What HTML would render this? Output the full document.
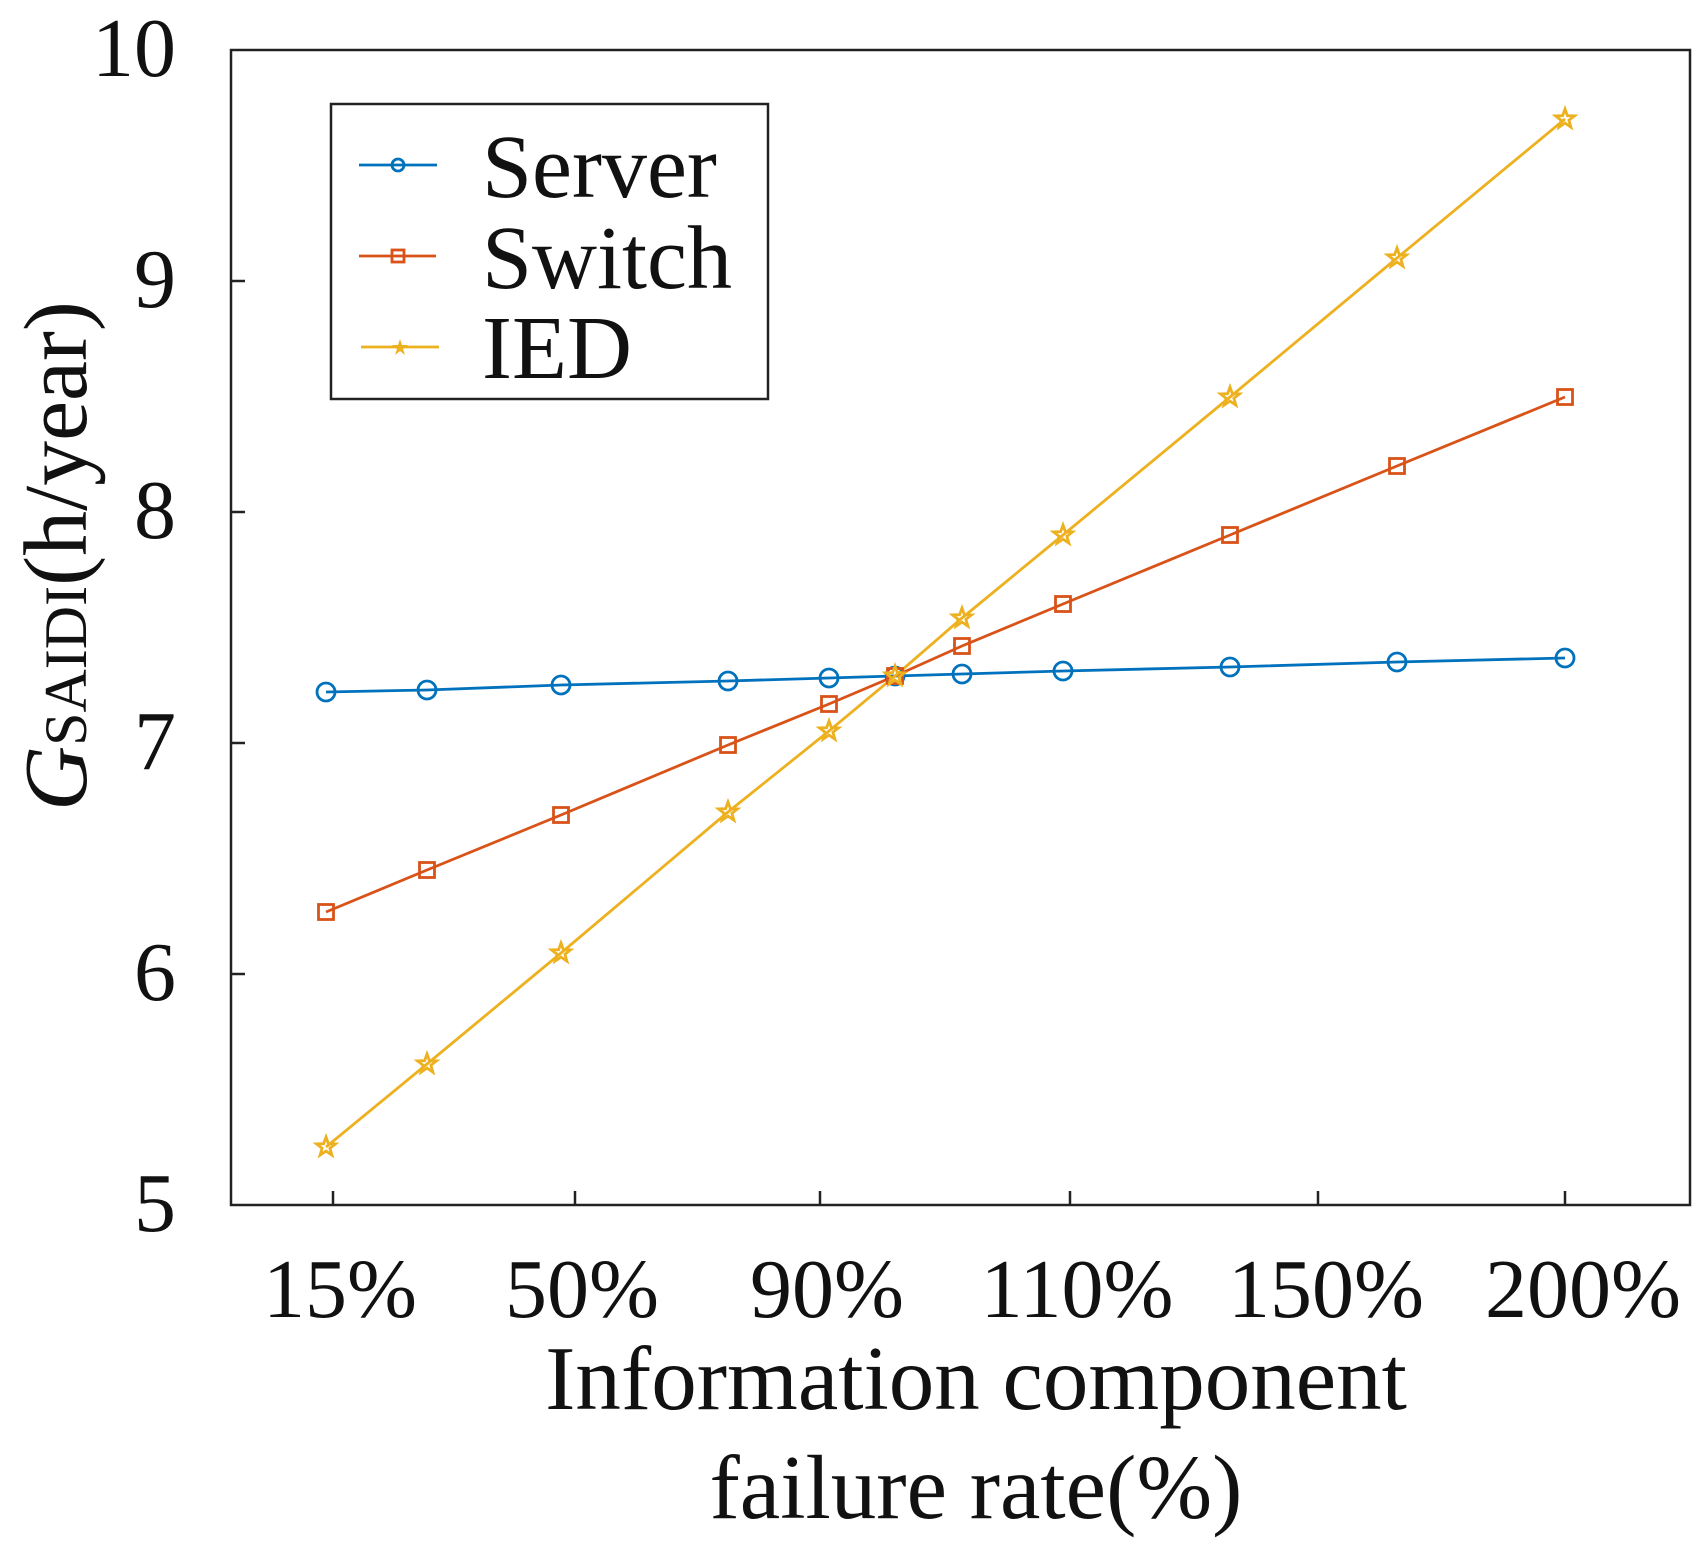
<!DOCTYPE html>
<html><head><meta charset="utf-8"><style>html,body{margin:0;padding:0;background:#fff}svg{display:block}text{font-family:"Liberation Serif",serif;fill:#111}</style></head>
<body>
<svg width="1708" height="1546" viewBox="0 0 1708 1546" xmlns="http://www.w3.org/2000/svg">
<defs>
<symbol id="c" viewBox="-10 -10 20 20" overflow="visible"><circle r="9" fill="none" stroke="#0072BD" stroke-width="2.8"/></symbol>
<symbol id="s" viewBox="-10 -10 20 20" overflow="visible"><rect x="-7.5" y="-7.5" width="15" height="15" fill="none" stroke="#D95319" stroke-width="2.8"/></symbol>
<symbol id="t" viewBox="-10 -10 20 20" overflow="visible"><polygon points="0,-10 2.4,-3.3 9.5,-3.1 3.9,1.3 5.9,8.1 0,4.1 -5.9,8.1 -3.9,1.3 -9.5,-3.1 -2.4,-3.3" fill="none" stroke="#EDB120" stroke-width="2.8"/></symbol>
</defs>
<rect x="231" y="50" width="1459" height="1155" fill="none" stroke="#222" stroke-width="2.5"/>
<g stroke="#222" stroke-width="2.5">
<line x1="231" y1="281" x2="245" y2="281"/><line x1="231" y1="512" x2="245" y2="512"/><line x1="231" y1="743" x2="245" y2="743"/><line x1="231" y1="974" x2="245" y2="974"/>
<line x1="333" y1="1205" x2="333" y2="1191"/><line x1="575" y1="1205" x2="575" y2="1191"/><line x1="820" y1="1205" x2="820" y2="1191"/><line x1="1070" y1="1205" x2="1070" y2="1191"/><line x1="1318" y1="1205" x2="1318" y2="1191"/><line x1="1565" y1="1205" x2="1565" y2="1191"/>
</g>
<g font-size="84" text-anchor="end">
<text x="176" y="76">10</text><text x="176" y="307">9</text><text x="176" y="538">8</text><text x="176" y="769">7</text><text x="176" y="1000">6</text><text x="176" y="1231">5</text>
</g>
<g font-size="84" text-anchor="middle">
<text x="340" y="1317">15%</text><text x="582" y="1317">50%</text><text x="827" y="1317">90%</text><text x="1077" y="1317">110%</text><text x="1326" y="1317">150%</text><text x="1583" y="1317">200%</text>
</g>
<g font-size="91" text-anchor="middle">
<text x="976" y="1409">Information component</text>
<text x="976" y="1518">failure rate(%)</text>
</g>
<text transform="translate(86 556) rotate(-90)" font-size="90" text-anchor="middle"><tspan font-style="italic">G</tspan><tspan font-size="60">SAIDI</tspan>(h/year)</text>
<polyline fill="none" stroke="#0072BD" stroke-width="2.8" points="326,692 427,690 561,685 728,681 829,678 895,676 962,674 1063,671 1230,667 1397,662 1565,658"/>
<polyline fill="none" stroke="#D95319" stroke-width="2.8" points="326,912 427,870 561,815 728,745 829,704 895,676 962,646 1063,604 1230,535 1397,466 1565,397"/>
<polyline fill="none" stroke="#EDB120" stroke-width="2.8" points="326,1147 427,1064 561,953 728,812 829,731 895,676 962,618 1063,535 1230,397 1397,258 1565,119"/>
<g>
<use href="#c" x="316" y="682" width="20" height="20"/><use href="#c" x="417" y="680" width="20" height="20"/><use href="#c" x="551" y="675" width="20" height="20"/><use href="#c" x="718" y="671" width="20" height="20"/><use href="#c" x="819" y="668" width="20" height="20"/><use href="#c" x="885" y="666" width="20" height="20"/><use href="#c" x="952" y="664" width="20" height="20"/><use href="#c" x="1053" y="661" width="20" height="20"/><use href="#c" x="1220" y="657" width="20" height="20"/><use href="#c" x="1387" y="652" width="20" height="20"/><use href="#c" x="1555" y="648" width="20" height="20"/>
<use href="#s" x="316" y="902" width="20" height="20"/><use href="#s" x="417" y="860" width="20" height="20"/><use href="#s" x="551" y="805" width="20" height="20"/><use href="#s" x="718" y="735" width="20" height="20"/><use href="#s" x="819" y="694" width="20" height="20"/><use href="#s" x="885" y="666" width="20" height="20"/><use href="#s" x="952" y="636" width="20" height="20"/><use href="#s" x="1053" y="594" width="20" height="20"/><use href="#s" x="1220" y="525" width="20" height="20"/><use href="#s" x="1387" y="456" width="20" height="20"/><use href="#s" x="1555" y="387" width="20" height="20"/>
<use href="#t" x="316" y="1137" width="20" height="20"/><use href="#t" x="417" y="1054" width="20" height="20"/><use href="#t" x="551" y="943" width="20" height="20"/><use href="#t" x="718" y="802" width="20" height="20"/><use href="#t" x="819" y="721" width="20" height="20"/><use href="#t" x="885" y="666" width="20" height="20"/><use href="#t" x="952" y="608" width="20" height="20"/><use href="#t" x="1053" y="525" width="20" height="20"/><use href="#t" x="1220" y="387" width="20" height="20"/><use href="#t" x="1387" y="248" width="20" height="20"/><use href="#t" x="1555" y="109" width="20" height="20"/>
</g>
<rect x="331" y="104" width="437" height="295" fill="#fff" stroke="#222" stroke-width="2.5"/>
<line x1="359" y1="165" x2="437" y2="165" stroke="#0072BD" stroke-width="2.8"/><circle cx="398" cy="165" r="6" fill="none" stroke="#0072BD" stroke-width="2.8"/>
<line x1="359" y1="256" x2="436" y2="256" stroke="#D95319" stroke-width="2.8"/><rect x="392" y="250" width="12" height="12" fill="none" stroke="#D95319" stroke-width="2.8"/>
<line x1="361" y1="347" x2="439" y2="347" stroke="#EDB120" stroke-width="2.8"/><polygon points="400,339 402,345 408,345 403,349 405,355 400,351 395,355 397,349 392,345 398,345" fill="#EDB120"/>
<g font-size="90"><text x="482" y="197">Server</text><text x="482" y="288">Switch</text><text x="482" y="378">IED</text></g>
</svg>
</body></html>
